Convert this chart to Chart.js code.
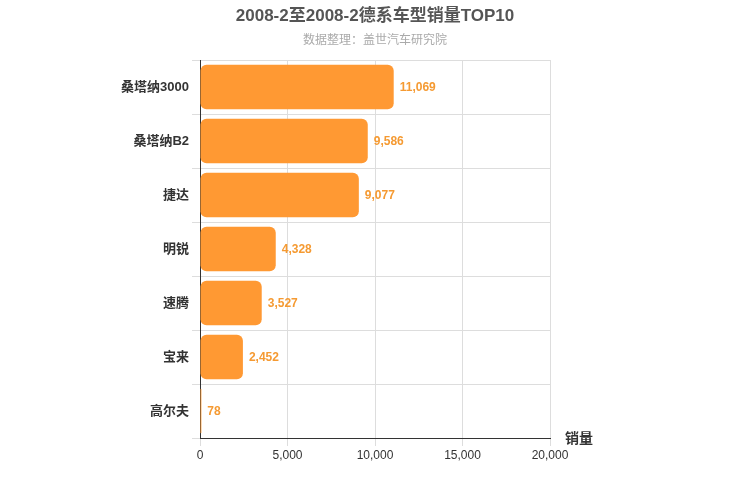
<!DOCTYPE html>
<html>
<head>
<meta charset="utf-8">
<script src="https://cdn.jsdelivr.net/npm/chart.js@4"></script>
<style>
  body { margin: 0; background: #fff; }
  #wrap { width: 750px; height: 500px; }
</style>
</head>
<body>
<div id="wrap"><canvas id="chart"></canvas></div>
<script>
const models = ["桑塔纳3000", "桑塔纳B2", "捷达", "明锐", "速腾", "宝来", "高尔夫"];
const sales = [11069, 9586, 9077, 4328, 3527, 2452, 78];
const xTicks = [0, 5000, 10000, 15000, 20000];

const fontFamily = "'Liberation Sans', 'Noto Sans CJK SC', sans-serif";

// value labels, titles and axis name
const overlay = {
    id: "overlay",
    afterDatasetsDraw(chart) {
        const ctx = chart.ctx;
        const meta = chart.getDatasetMeta(0);
        ctx.save();
        ctx.font = "bold 12px " + fontFamily;
        ctx.fillStyle = "#f59a32";
        ctx.textBaseline = "middle";
        meta.data.forEach((bar, i) => {
            ctx.fillText(sales[i].toLocaleString("en-US"), bar.x + 6, bar.y + 1);
        });
        ctx.font = "bold 14px " + fontFamily;
        ctx.fillStyle = "#333";
        ctx.fillText("销量", chart.chartArea.right + 15, chart.chartArea.bottom + 1);

        ctx.textAlign = "center";
        ctx.font = "bold 17px " + fontFamily;
        ctx.fillStyle = "#555";
        ctx.fillText("2008-2至2008-2德系车型销量TOP10", 375, 16);
        ctx.font = "12px " + fontFamily;
        ctx.fillStyle = "#aaa";
        ctx.fillText("数据整理：盖世汽车研究院", 375, 41);
        ctx.restore();
    }
};

new Chart(document.getElementById("chart"), {
    type: "bar",
    data: {
        labels: models,
        datasets: [{
            data: sales,
            backgroundColor: "#ff9933",
            borderRadius: 6,
            borderSkipped: false,
            barPercentage: 0.82,
            categoryPercentage: 1
        }]
    },
    options: {
        indexAxis: "y",
        responsive: true,
        maintainAspectRatio: false,
        animation: false,
        layout: { padding: { left: 0, right: 200, top: 60, bottom: 38 } },
        plugins: {
            legend: { display: false },
            tooltip: { enabled: false }
        },
        scales: {
            x: {
                min: 0,
                max: 20000,
                afterBuildTicks(axis) { axis.ticks = xTicks.map(v => ({ value: v })); },
                afterFit(axis) { axis.height = 24; },
                grid: { color: "#ddd" },
                border: { color: "#333" },
                ticks: {
                    color: "#333",
                    padding: 2,
                    font: { family: fontFamily, size: 12 },
                    callback: v => v.toLocaleString("en-US")
                }
            },
            y: {
                afterFit(axis) { axis.width = 200; },
                grid: { color: "#ddd" },
                border: { color: "#333" },
                ticks: {
                    color: "#333",
                    font: { family: fontFamily, size: 13, weight: "bold" }
                }
            }
        }
    },
    plugins: [overlay]
});
</script>
</body>
</html>
